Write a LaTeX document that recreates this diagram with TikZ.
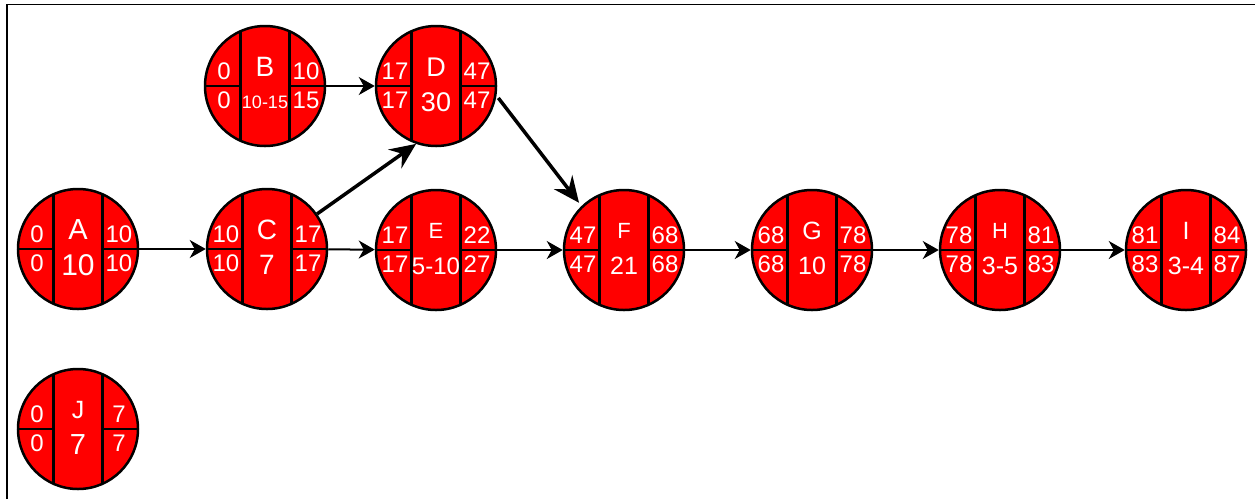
\documentclass[tikz,border=0pt]{standalone}
\usepackage{fontspec}
\setmainfont{Liberation Sans}
\usetikzlibrary{arrows.meta}
\definecolor{taskred}{RGB}{255,0,0}
\newcommand\fs[1]{\fontsize{#1}{#1}\selectfont}
% activity circle: name, x, y, ES, EF, LS, LF, id, duration
\newcommand\pertnode[9]{%
  \node[task] (#1) at (#2,#3) {};
  \draw[divider] ([shift={(-24.5,-54.8)}]#1.center) -- ([shift={(-24.5,54.8)}]#1.center);
  \draw[divider] ([shift={(24.5,-54.8)}]#1.center) -- ([shift={(24.5,54.8)}]#1.center);
  \draw[divider] ([shift={(-60,0)}]#1.center) -- ([shift={(-24.5,0)}]#1.center);
  \draw[divider] ([shift={(24.5,0)}]#1.center) -- ([shift={(60,0)}]#1.center);
  \node[sidenum] (#1-es) at ([shift={(-41,-15)}]#1.center) {#4};
  \node[sidenum] (#1-ef) at ([shift={(41,-15)}]#1.center) {#5};
  \node[sidenum] (#1-ls) at ([shift={(-41,14)}]#1.center) {#6};
  \node[sidenum] (#1-lf) at ([shift={(41,14)}]#1.center) {#7};
  \node[centretext] (#1-id) at ([shift={(0,-19)}]#1.center) {#8};
  \node[centretext] (#1-du) at ([shift={(0,16)}]#1.center) {#9};
}
\begin{document}
\begin{tikzpicture}[x=1pt,y=-1pt,
  task/.style={circle, minimum size=120pt, inner sep=0pt, fill=taskred, draw=black, line width=2.5pt},
  divider/.style={draw=black, line width=2.2pt},
  sidenum/.style={text=white, inner sep=0pt, font=\fs{24}},
  centretext/.style={text=white, inner sep=0pt, font=\fs{25}},
  flow/.style={draw=black, line width=2pt, -{Stealth[length=16pt, width=18pt, inset=5pt]}},
  bigflow/.style={draw=black, line width=3.5pt, -{Stealth[length=26pt, width=23pt, inset=9pt]}}]
\useasboundingbox (0,0) rectangle (1255,499);

% frame
\draw[line width=1.8pt] (7,499) -- (7,4.5) -- (1255,4.5);

% activities
\pertnode{A}{78}{249}{0}{10}{0}{10}{\fs{29}A}{\fs{30}10}
\pertnode{B}{265}{86}{0}{10}{0}{15}{\fs{28}B}{\fs{18}10-15}
\pertnode{C}{267}{249}{10}{17}{10}{17}{\fs{28}C}{\fs{28}7}
\pertnode{D}{436}{86}{17}{47}{17}{47}{\fs{27}D}{\fs{27}30}
\pertnode{E}{436}{250}{17}{22}{17}{27}{\fs{22}E}{\fs{24}5-10}
\pertnode{F}{624}{250}{47}{68}{47}{68}{\fs{22}F}{\fs{25}21}
\pertnode{G}{812}{250}{68}{78}{68}{78}{G}{10}
\pertnode{H}{1000}{250}{78}{81}{78}{83}{\fs{22}H}{3-5}
\pertnode{I}{1186}{250}{81}{84}{83}{87}{I}{3-4}
\pertnode{J}{78}{429}{0}{7}{0}{7}{J}{\fs{29}7}

% dependencies
\draw[flow] (A) -- (C);
\draw[flow] (B) -- (D);
\draw[flow] (C) -- (E);
\draw[flow] (E) -- (F);
\draw[flow] (F) -- (G);
\draw[flow] (G) -- (H);
\draw[flow] (H) -- (I);
\draw[bigflow] (C.35) -- (D.251);
\draw[bigflow, shorten <=3pt, shorten >=4pt] (D.-9) -- (F.134);
\end{tikzpicture}
\end{document}
